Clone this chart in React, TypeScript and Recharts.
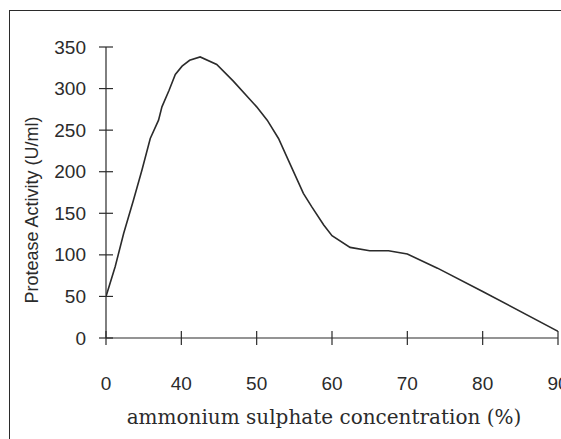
import React from 'react';
import { LineChart, Line, XAxis, YAxis } from 'recharts';

const concentration = [0, 4.9, 9.4, 14.6, 19.1, 23.5, 27.9, 29.7, 33.5, 36.8, 40.1, 41.1, 42.5, 44.7, 46.9, 50, 51.4, 52.9, 54.2, 56.2, 57.3, 58.9, 60, 62.4, 65, 67.5, 70, 74, 80, 90];
const activity = [50, 86, 126, 166, 202, 240, 262, 278, 298, 317, 327, 334, 338, 329, 309, 278, 262, 240, 214, 174, 158, 136, 123, 109, 105, 105, 101, 84, 56, 8];
const xTickLabels = ['0', '40', '50', '60', '70', '80', '90'];
const xTickValues = [0, 40, 50, 60, 70, 80, 90];
const yTicks = [0, 50, 100, 150, 200, 250, 300, 350];

// the axis is drawn with equal spacing between labelled ticks (0 -> 40 compressed)
const toAxisPos = (c: number) => {
  for (let i = 1; i < xTickValues.length; i++) {
    if (c <= xTickValues[i]) {
      const a = xTickValues[i - 1];
      const b = xTickValues[i];
      return i - 1 + (c - a) / (b - a);
    }
  }
  return xTickValues.length - 1;
};

const data = concentration.map((c, i) => ({ pos: toAxisPos(c), activity: activity[i] }));

const W = 561;
const H = 439;
const margin = { top: 47, right: 3, left: 0, bottom: 0 };
const Y_W = 106;
const X_H = 101;
const AX = margin.left + Y_W;
const AY = H - margin.bottom - X_H;
const INK = '#2b2b2b';

const YTick = (props: any) => {
  const { y, payload } = props;
  return (
    <g>
      <line x1={AX - 7} x2={AX + 7} y1={y} y2={y} stroke={INK} strokeWidth={1.2} />
      <text x={AX - 20} y={y} textAnchor="end" dominantBaseline="central" fontFamily="Liberation Sans, Arial, sans-serif" fontSize={19} fill={INK}>
        {payload.value}
      </text>
    </g>
  );
};

const XTick = (props: any) => {
  const { x, payload } = props;
  return (
    <g>
      <line x1={x} x2={x} y1={AY - 7} y2={AY + 7} stroke={INK} strokeWidth={1.2} />
      <text x={x} y={AY + 45} textAnchor="middle" dominantBaseline="central" fontFamily="Liberation Sans, Arial, sans-serif" fontSize={19} fill={INK}>
        {xTickLabels[payload.value]}
      </text>
    </g>
  );
};

const YLabel = () => (
  <text x={32} y={210} transform="rotate(-90 32 210)" textAnchor="middle" dominantBaseline="central" fontFamily="'Liberation Sans Narrow', 'Arial Narrow', sans-serif" fontSize={18} fill={INK}>
    Protease Activity (U/ml)
  </text>
);

const XLabel = () => (
  <text x={324} y={417} textAnchor="middle" dominantBaseline="central" fontFamily="'DejaVu Serif', serif" fontSize={20} fill={INK}>
    ammonium sulphate concentration (%)
  </text>
);

export default function App() {
  return (
    <div style={{ position: 'fixed', left: 0, top: 0, width: W, height: H, overflow: 'hidden', background: '#fff' }}>
      <div style={{ position: 'absolute', left: 9, top: 10, width: 700, height: 600, border: `1.5px solid ${INK}`, boxSizing: 'border-box' }} />
      <div style={{ position: 'absolute', left: 0, top: 0 }}>
        <LineChart width={W} height={H} data={data} margin={margin} style={{ overflow: 'visible' }}>
          <XAxis
            dataKey="pos"
            type="number"
            domain={[0, xTickLabels.length - 1]}
            ticks={xTickLabels.map((_, i) => i)}
            height={X_H}
            axisLine={{ stroke: INK, strokeWidth: 1.2 }}
            tickLine={false}
            tick={<XTick />}
            interval={0}
            allowDataOverflow
            label={<XLabel />}
          />
          <YAxis
            type="number"
            domain={[0, 350]}
            ticks={yTicks}
            width={Y_W}
            axisLine={{ stroke: INK, strokeWidth: 1.2 }}
            tickLine={false}
            tick={<YTick />}
            interval={0}
            label={<YLabel />}
          />
          <Line
            type="linear"
            dataKey="activity"
            stroke={INK}
            strokeWidth={1.6}
            dot={false}
            isAnimationActive={false}
          />
        </LineChart>
      </div>
    </div>
  );
}
